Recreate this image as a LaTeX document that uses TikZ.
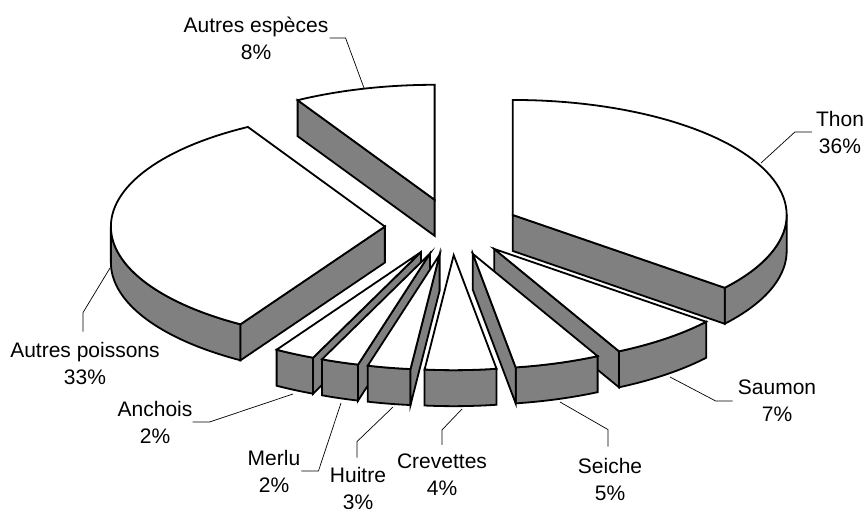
\documentclass[tikz,border=0pt]{standalone}
\usepackage{fontspec}
\setmainfont{Liberation Sans}
\usepackage{tikz}

\definecolor{wallgray}{RGB}{128,128,128}

% pie geometry, in pixels
\newcommand{\pcx}{452}
\newcommand{\pcy}{227}
\newcommand{\prx}{274}
\newcommand{\pry}{115}
\newcommand{\pdep}{36}
\newcommand{\pexp}{0.245}

% one exploded slice, from #1 to #2 degrees (clockwise from the top)
\newcommand{\radwall}[1]{%
  \draw[wall] (\ox,\oy) -- ({\ox+\prx*sin(#1)},{\oy-\pry*cos(#1)})
    -- ++(0,\pdep) -- (\ox,{\oy+\pdep}) -- cycle;}
\newcommand{\pieslice}[2]{%
  \pgfmathsetmacro\sla{#1}%
  \pgfmathsetmacro\slb{#2}%
  \pgfmathsetmacro\slm{(\sla+\slb)/2}%
  \pgfmathsetmacro\ox{\pcx+\pexp*\prx*sin(\slm)}%
  \pgfmathsetmacro\oy{\pcy-\pexp*\pry*cos(\slm)}%
  \pgfmathsetmacro\fra{max(\sla,90)}%
  \pgfmathsetmacro\frb{min(\slb,270)}%
  \ifdim\fra pt<\frb pt
    \draw[wall] plot[variable=\w,domain=\fra:\frb,samples=40]
        ({\ox+\prx*sin(\w)},{\oy-\pry*cos(\w)})
      -- plot[variable=\w,domain=\frb:\fra,samples=40]
        ({\ox+\prx*sin(\w)},{\oy-\pry*cos(\w)+\pdep}) -- cycle;
  \fi
  \pgfmathsetmacro\sna{sin(\sla)}%
  \pgfmathsetmacro\snb{sin(\slb)}%
  \ifdim\sna pt<-0.01pt \radwall{\sla}\fi
  \ifdim\snb pt>0.01pt \radwall{\slb}\fi
  \draw[topface] (\ox,\oy) -- plot[variable=\w,domain=\sla:\slb,samples=60]
      ({\ox+\prx*sin(\w)},{\oy-\pry*cos(\w)}) -- cycle;
}

\begin{document}
\begin{tikzpicture}[
    x=1pt, y=-1pt,
    wall/.style={fill=wallgray, draw=black, line width=1.8pt},
    topface/.style={fill=white, draw=black, line width=1.8pt},
    leader/.style={draw=black, line width=0.7pt},
    lbl/.style={align=center, inner sep=0pt, font={\fontsize{21}{27}\selectfont}}
]
\useasboundingbox (0,0) rectangle (866,508);

% slices, back to front
\pieslice{330}{360}      % Autres especes
\pieslice{0}{129.3}      % Thon
\pieslice{211.8}{330}    % Autres poissons
\pieslice{203.2}{211.8}  % Anchois
\pieslice{195.2}{203.2}  % Merlu
\pieslice{186.1}{195.2}  % Huitre
\pieslice{129.3}{152.9}  % Saumon
\pieslice{152.9}{171}    % Seiche
\pieslice{171}{186.1}    % Crevettes

% labels
\node[lbl] (lAutresEsp) at (256,38) {Autres espèces\\8\%};
\node[lbl] (lThon) at (840,132) {Thon\\36\%};
\node[lbl] (lSaumon) at (777,401) {Saumon\\7\%};
\node[lbl] (lSeiche) at (610,479) {Seiche\\5\%};
\node[lbl] (lCrevettes) at (442,475) {Crevettes\\4\%};
\node[lbl] (lHuitre) at (358,488) {Huitre\\3\%};
\node[lbl] (lMerlu) at (274,471) {Merlu\\2\%};
\node[lbl] (lAnchois) at (155,422) {Anchois\\2\%};
\node[lbl] (lAutresPois) at (85,363) {Autres poissons\\33\%};

% where the leaders meet the pie
\coordinate (pAutresEsp) at (364,88);
\coordinate (pThon) at (761,163);
\coordinate (pSaumon) at (670,377);
\coordinate (pSeiche) at (560,402);
\coordinate (pCrevettes) at (462,409);
\coordinate (pHuitre) at (393,407);
\coordinate (pMerlu) at (341,403);
\coordinate (pAnchois) at (293,394);
\coordinate (pAutresPois) at (110,268);

% leaders
\draw[leader] ([xshift=1pt]lAutresEsp.east) -- ++(16,0) -- (pAutresEsp);
\draw[leader] ([xshift=-4pt]lThon.west) -- ++(-17,0) -- (pThon);
\draw[leader] ([xshift=-5pt]lSaumon.west) -- ++(-17,0) -- (pSaumon);
\draw[leader] ([xshift=-2pt,yshift=11pt]lSeiche.north) -- ++(0,-17) -- (pSeiche);
\draw[leader] ([yshift=9pt]lCrevettes.north) -- ++(0,-15) -- (pCrevettes);
\draw[leader] ([xshift=-1pt,yshift=9pt]lHuitre.north) -- ++(0,-16) -- (pHuitre);
\draw[leader] ([xshift=1pt]lMerlu.east) -- ++(17,0) -- (pMerlu);
\draw[leader] (lAnchois.east) -- ++(17,0) -- (pAnchois);
\draw[leader] ([xshift=-2pt,yshift=10pt]lAutresPois.north) -- ++(0,-19) -- (pAutresPois);
\end{tikzpicture}
\end{document}
